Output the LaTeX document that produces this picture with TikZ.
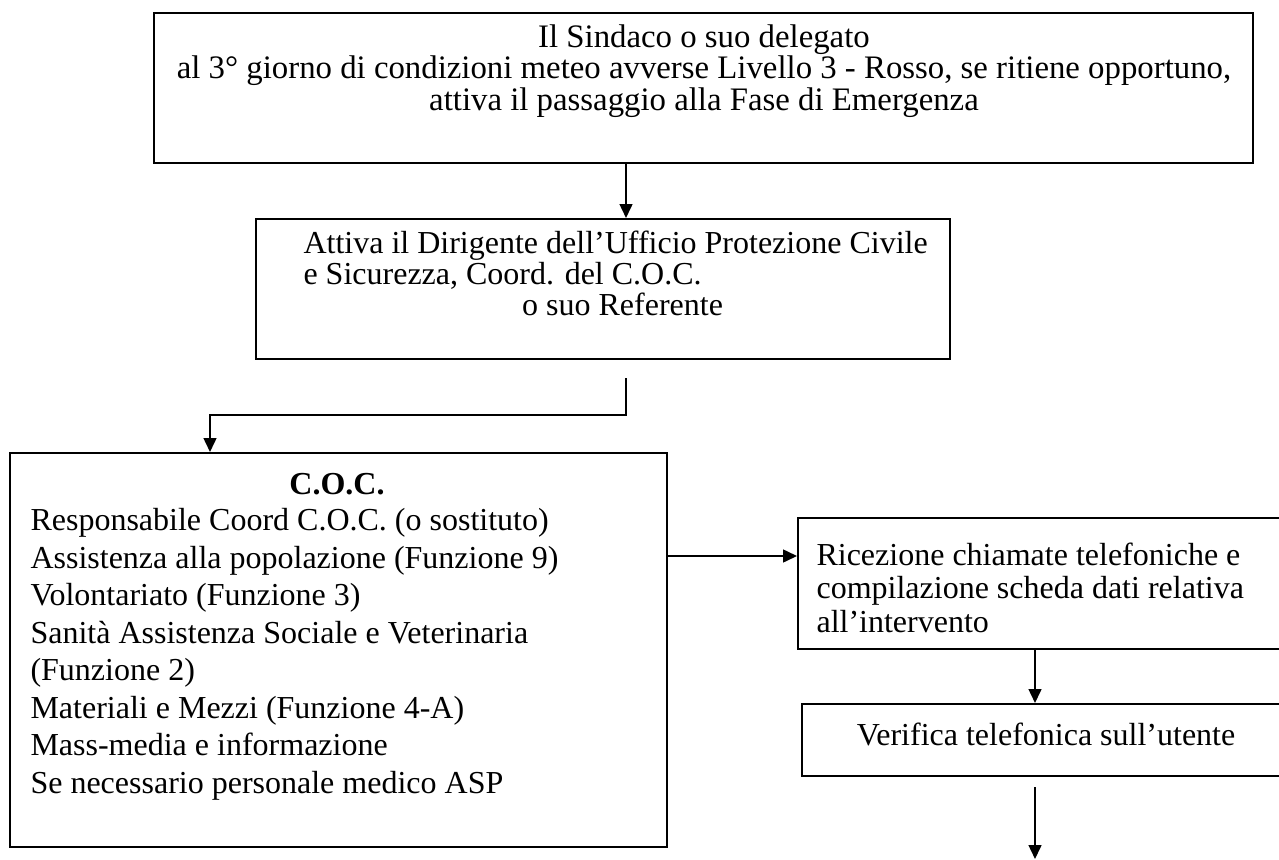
\documentclass[tikz,border=0pt]{standalone}
\usepackage{fontspec}
\setmainfont{Liberation Serif}
\usetikzlibrary{arrows.meta,positioning}

\tikzset{
  cella/.style 2 args={draw,line width=0.8pt,anchor=north west,inner sep=0pt,
    minimum width=#1*0.375pt,minimum height=#2*0.375pt},
  testo/.style={inner sep=0pt,font=\fontsize{12}{11.7}\selectfont},
  freccia/.style={line width=0.65pt,->},
}

\begin{document}
\begin{tikzpicture}[x=0.375pt,y=-0.375pt,>={Triangle[length=5.2pt,width=4.8pt]}]
  \useasboundingbox (0,0) rectangle (1279,859);
  % caselle
  \node[cella={1099}{150}] (sindaco) at (153,12) {};
  \node[cella={694}{140}] (dirigente) at (255,218) {};
  \node[cella={657}{394}] (coc) at (9,452) {};
  \node[cella={520}{131}] (ricezione) at (797,517) {};
  \node[cella={490}{72}] (verifica) at (801,703) {};
  % testi
  \node[testo,font=\fontsize{12.3}{11.8}\selectfont,align=center,anchor=north] (sindacotxt) at (704,24)
    {Il Sindaco o suo delegato\\
     al 3° giorno di condizioni meteo avverse Livello 3 - Rosso, se ritiene opportuno,\\
     attiva il passaggio alla Fase di Emergenza};
  \node[testo,align=left,anchor=north west] (dirigentetxt) at (303,230)
    {Attiva il Dirigente dell’Ufficio Protezione Civile\\
     e Sicurezza, Coord. del C.O.C.\\
     \hspace*{82pt}o suo Referente};
  \node[testo,font=\fontsize{12}{14}\selectfont\bfseries,anchor=north] (coctit) at (337,473) {C.O.C.};
  \node[testo,font=\fontsize{12}{14.05}\selectfont,align=left,anchor=north west] (coctxt) at (30,508)
    {Responsabile Coord C.O.C. (o sostituto)\\
     Assistenza alla popolazione (Funzione 9)\\
     Volontariato (Funzione 3)\\
     Sanità Assistenza Sociale e Veterinaria\\
     (Funzione 2)\\
     Materiali e Mezzi (Funzione 4-A)\\
     Mass-media e informazione\\
     Se necessario personale medico ASP};
  \node[testo,font=\fontsize{12}{12.56}\selectfont,align=left,anchor=north west] (ricezionetxt) at (816,542)
    {Ricezione chiamate telefoniche e\\
     compilazione scheda dati relativa\\
     all’intervento};
  \node[testo,anchor=north] (verificatxt) at (1046,722) {Verifica telefonica sull’utente};
  % collegamenti
  \coordinate (asse1) at (626,0);
  \coordinate (giu) at (626,378);
  \coordinate (gomito) at (210,415);
  \coordinate (asse2) at (0,556);
  \coordinate (asse3) at (1035,0);
  \coordinate (inizio) at (1035,787);
  \coordinate (fine) at (1035,859);
  \draw[freccia] (sindaco.south -| asse1) -- (dirigente.north -| asse1);
  \draw[freccia] (giu) |- (gomito) -- (gomito |- coc.north);
  \draw[freccia] (coc.east |- asse2) -- (ricezione.west |- asse2);
  \draw[freccia] (ricezione.south -| asse3) -- (verifica.north -| asse3);
  \draw[freccia] (inizio) -- (fine);
\end{tikzpicture}
\end{document}
